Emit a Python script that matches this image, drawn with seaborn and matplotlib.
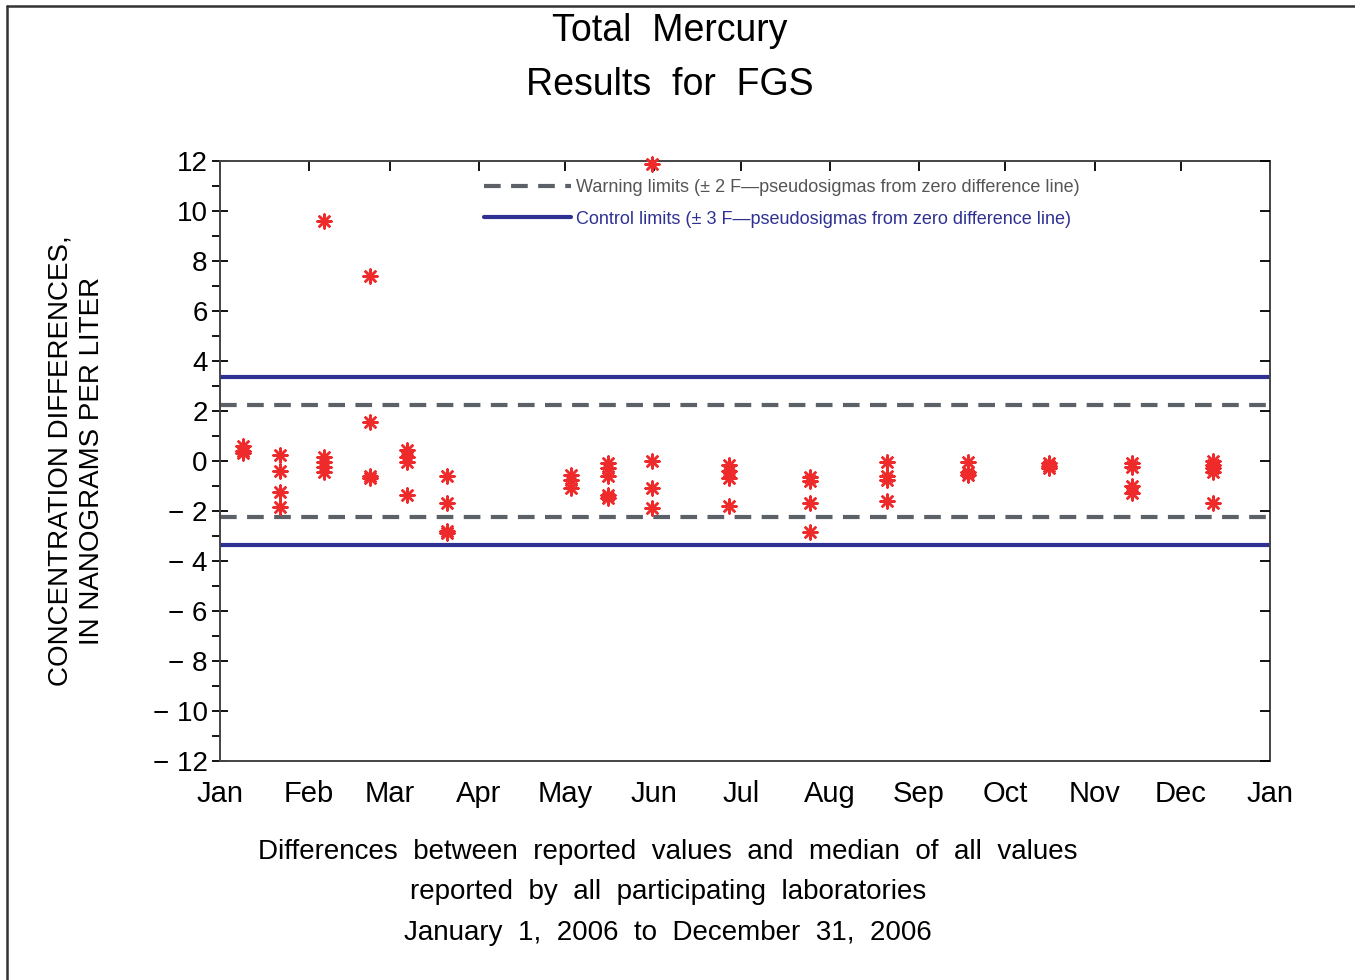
import pandas as pd
import numpy as np
import matplotlib
matplotlib.use("Agg")
import matplotlib.pyplot as plt
import matplotlib.dates as mdates
from matplotlib.lines import Line2D
import seaborn as sns

# sample dates (one per result) and differences from median, ng/L
sample_dates = (
    ["2006-01-09"] * 3 + ["2006-01-22"] * 4 + ["2006-02-06"] * 5 +
    ["2006-02-22"] * 4 + ["2006-03-07"] * 4 + ["2006-03-21"] * 4 +
    ["2006-05-03"] * 3 + ["2006-05-16"] * 5 + ["2006-05-31"] * 4 +
    ["2006-06-27"] * 4 + ["2006-07-25"] * 4 + ["2006-08-21"] * 4 +
    ["2006-09-18"] * 3 + ["2006-10-16"] * 3 + ["2006-11-14"] * 4 +
    ["2006-12-12"] * 5
)
differences = [
    0.6, 0.4, 0.3,
    0.25, -0.4, -1.25, -1.85,
    9.6, 0.15, -0.05, -0.25, -0.45,
    7.4, 1.55, -0.6, -0.7,
    0.45, 0.15, -0.05, -1.35,
    -0.6, -1.7, -2.8, -2.9,
    -0.55, -0.75, -1.1,
    -0.1, -0.3, -0.6, -1.35, -1.5,
    11.9, 0.0, -1.1, -1.9,
    -0.15, -0.4, -0.7, -1.8,
    -0.65, -0.8, -1.7, -2.85,
    -0.05, -0.6, -0.75, -1.6,
    -0.05, -0.45, -0.55,
    -0.1, -0.2, -0.3,
    -0.1, -0.25, -1.0, -1.3,
    0.0, -0.15, -0.3, -0.45, -1.7,
]
y_ticks = list(range(-12, 13, 2))
warning_limit = 2.25
control_limit = 3.35

df = pd.DataFrame({"date": pd.to_datetime(sample_dates), "diff": differences})

sns.set_style("white")
plt.rcParams["font.family"] = ["Liberation Sans", "DejaVu Sans"]
plt.rcParams["text.color"] = "black"
plt.rcParams["axes.labelcolor"] = "black"
plt.rcParams["xtick.color"] = "black"
plt.rcParams["ytick.color"] = "black"

fig = plt.figure(figsize=(13.55, 9.8), dpi=100)
ax = fig.add_axes([0.1624, 0.2235, 0.7749, 0.6122])

# limit lines
for lim in (warning_limit, -warning_limit):
    ax.axhline(lim, color="#5b6166", lw=3, ls=(0, (4, 2.5)), zorder=2)
for lim in (control_limit, -control_limit):
    ax.axhline(lim, color="#2e3192", lw=3, zorder=2)

sns.scatterplot(data=df, x="date", y="diff", ax=ax, marker=(8, 2, 0),
                s=100, color="#ee2a2a", edgecolor="#ee2a2a", linewidth=1.8,
                zorder=3, clip_on=False)

ax.set_xlim(pd.Timestamp("2006-01-01"), pd.Timestamp("2007-01-01"))
ax.set_ylim(-12, 12)
ax.xaxis.set_major_locator(mdates.MonthLocator())
ax.xaxis.set_major_formatter(mdates.DateFormatter("%b"))
ax.set_yticks(y_ticks)
ax.set_yticks(np.arange(-11, 12, 2), minor=True)
ax.set_yticklabels([str(v).replace("-", "\u2212 ") if v < 0 else str(v)
                    for v in y_ticks])
ax.tick_params(axis="y", which="major", direction="inout", length=12,
               width=1.3, labelsize=20, pad=3)
ax.tick_params(axis="y", which="minor", direction="out", length=6,
               width=1.3, left=True, right=False)
ax.tick_params(axis="x", direction="in", length=7, width=1.3,
               labelsize=21, top=True, pad=14)
for sp in ax.spines.values():
    sp.set_color("#444444")
    sp.set_linewidth(1.4)

# right-hand ticks point inward only
ax_r = ax.twinx()
ax_r.set_ylim(-12, 12)
ax_r.set_yticks(y_ticks)
ax_r.tick_params(axis="y", direction="in", length=7, width=1.3, labelright=False)
ax_r.spines[:].set_visible(False)

ax.set_xlabel("")
ax.set_ylabel("CONCENTRATION DIFFERENCES,\nIN NANOGRAMS PER LITER",
              fontsize=20, linespacing=1.3, labelpad=34)

handles = [
    Line2D([], [], color="#5b6166", lw=3, ls=(0, (4, 2.5))),
    Line2D([], [], color="#2e3192", lw=3),
]
labels = [
    "Warning limits (\u00b1 2 F\u2014pseudosigmas from zero difference line)",
    "Control limits (\u00b1 3 F\u2014pseudosigmas from zero difference line)",
]
ax.legend(handles, labels, loc="upper left", bbox_to_anchor=(0.236, 0.997),
          frameon=False, fontsize=13, handlelength=4.8, handletextpad=0.3,
          labelspacing=0.8, labelcolor=["#555555", "#2e3192"])

fig.text(0.494, 0.968, "Total  Mercury", ha="center", va="center", fontsize=27)
fig.text(0.494, 0.913, "Results  for  FGS", ha="center", va="center", fontsize=27)
fig.text(0.493, 0.131, "Differences  between  reported  values  and  median  of  all  values",
         ha="center", va="center", fontsize=20)
fig.text(0.493, 0.090, "reported  by  all  participating  laboratories",
         ha="center", va="center", fontsize=20)
fig.text(0.493, 0.048, "January  1,  2006  to  December  31,  2006",
         ha="center", va="center", fontsize=20)

# page frame (left and top edges)
fig.add_artist(Line2D([0.0055, 0.0055], [0, 0.994], transform=fig.transFigure,
                      color="#333333", lw=1.8))
fig.add_artist(Line2D([0.0055, 1], [0.994, 0.994], transform=fig.transFigure,
                      color="#333333", lw=1.8))

plt.savefig("out.png", dpi=100)
